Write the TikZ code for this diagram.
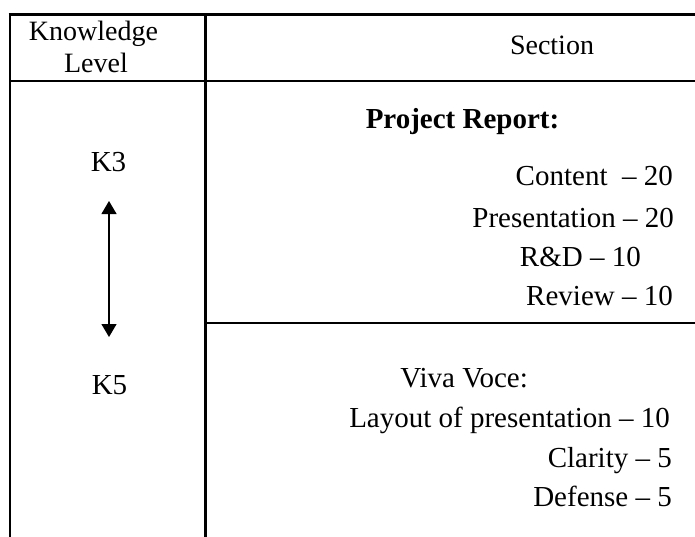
\documentclass[tikz,border=0pt]{standalone}
\usepackage{fontspec}
\setmainfont{Liberation Serif}
\usetikzlibrary{arrows.meta}
\begin{document}
\begin{tikzpicture}[x=1pt,y=-1pt,
  rule/.style={line width=2.6pt},
  hdr/.style={inner sep=0pt,font=\fontsize{28}{32}\selectfont},
  body/.style={inner sep=0pt,font=\fontsize{29}{34}\selectfont},
  lvl/.style={{Triangle[width=15pt,length=13pt]}-{Triangle[width=15pt,length=13pt]},line width=1.2pt}]
\useasboundingbox (0,0) rectangle (695,536);
% table rules
\draw[rule] (8.7,14.5) -- (700,14.5);
\draw[rule] (10,13.2) -- (10,540);
\draw[rule] (205.5,14.5) -- (205.5,540);
\draw[rule] (10,81) -- (700,81);
\draw[rule] (205.5,323) -- (700,323);
% header
\node[hdr,anchor=base] (kn) at (93.5,40) {Knowledge};
\node[hdr,anchor=base] (lv) at (96,72) {Level};
\node[hdr,anchor=base] (sec) at (552,54) {Section};
% levels
\node[body,anchor=base] (k3) at (108.5,171) {K3};
\node[body,anchor=base] (k5) at (109.5,394) {K5};
\coordinate (atop) at (109,201);
\coordinate (abot) at (109,337);
\draw[lvl] (atop) -- (abot);
% project report
\node[body,anchor=base,font=\fontsize{29}{34}\selectfont\bfseries] (pr) at (462.5,128) {Project Report:};
\node[body,anchor=base east] (c1) at (673,185) {Content\ \ – 20};
\node[body,anchor=base east] (c2) at (674,227) {Presentation – 20};
\node[body,anchor=base east] (c3) at (641,266) {R\&D – 10};
\node[body,anchor=base east] (c4) at (673,305) {Review – 10};
% viva voce
\node[body,anchor=base east] (v0) at (528,387) {Viva Voce:};
\node[body,anchor=base east] (v1) at (670,427) {Layout of presentation – 10};
\node[body,anchor=base east] (v2) at (672,467) {Clarity – 5};
\node[body,anchor=base east] (v3) at (672,506) {Defense – 5};
\end{tikzpicture}
\end{document}
